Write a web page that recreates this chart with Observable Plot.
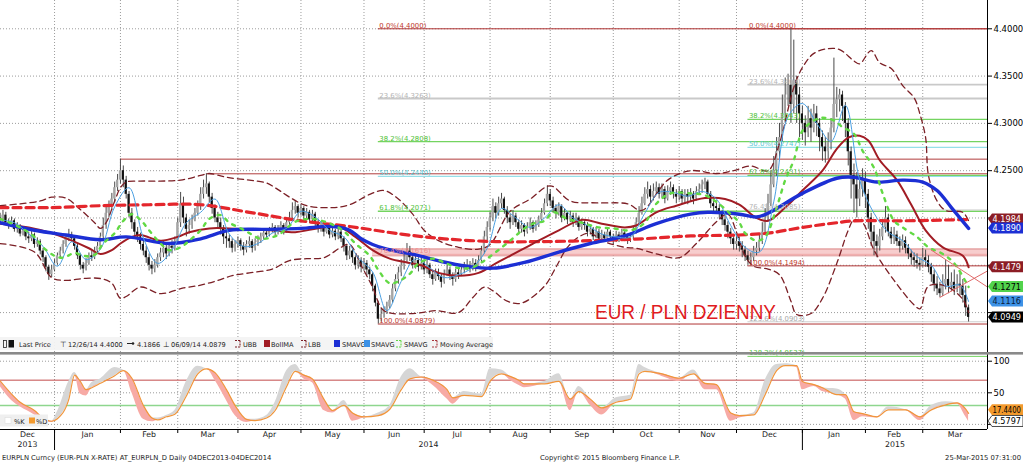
<!DOCTYPE html>
<html><head><meta charset="utf-8">
<script src="https://cdn.jsdelivr.net/npm/d3@7"></script>
<script src="https://cdn.jsdelivr.net/npm/@observablehq/plot@0.6"></script>
<style>
html,body{margin:0;padding:0;background:#fff;}
#wrap{position:relative;width:1023px;height:462px;overflow:hidden;background:#fff;}
#wrap svg{position:absolute;left:0;}
</style></head><body><div id="wrap"></div>
<script>
// ---------------- DATA ----------------
const firstDate = "2013-12-05", lastDate = "2015-03-24";   // daily sessions (weekdays)
const firstOpen = 4.200;
const close = [
4.198,4.203,4.195,4.192,4.197,4.188,4.190,4.183,4.186,4.180,
4.178,4.182,4.172,4.175,4.165,4.158,4.148,4.140,4.145,4.152,
4.160,4.165,4.172,4.178,4.182,4.178,4.170,4.160,4.150,4.146,
4.152,4.160,4.158,4.165,4.170,4.180,4.192,4.205,4.212,4.220,
4.232,4.240,4.250,4.240,4.225,4.205,4.195,4.185,4.180,4.172,
4.165,4.158,4.150,4.146,4.150,4.158,4.163,4.168,4.162,4.170,
4.168,4.175,4.195,4.215,4.200,4.188,4.192,4.198,4.205,4.212,
4.225,4.232,4.236,4.222,4.210,4.200,4.195,4.188,4.180,4.178,
4.175,4.168,4.172,4.176,4.170,4.166,4.172,4.175,4.168,4.174,
4.176,4.180,4.184,4.182,4.186,4.190,4.185,4.188,4.192,4.186,
4.195,4.200,4.208,4.212,4.205,4.210,4.202,4.206,4.198,4.204,
4.195,4.188,4.192,4.185,4.190,4.182,4.186,4.180,4.185,4.178,
4.170,4.160,4.165,4.158,4.150,4.155,4.148,4.152,4.145,4.140,
4.128,4.110,4.093,4.098,4.102,4.106,4.113,4.125,4.135,4.142,
4.150,4.155,4.165,4.158,4.150,4.155,4.148,4.152,4.145,4.150,
4.140,4.135,4.142,4.138,4.132,4.140,4.145,4.138,4.135,4.142,
4.140,4.145,4.148,4.150,4.146,4.152,4.148,4.155,4.165,4.180,
4.190,4.200,4.212,4.205,4.215,4.220,4.208,4.200,4.195,4.202,
4.195,4.188,4.192,4.185,4.190,4.195,4.188,4.192,4.198,4.205,
4.215,4.225,4.218,4.210,4.205,4.212,4.200,4.205,4.198,4.202,
4.195,4.200,4.190,4.195,4.192,4.185,4.188,4.180,4.185,4.178,
4.182,4.178,4.185,4.180,4.176,4.182,4.178,4.184,4.180,4.176,
4.180,4.185,4.195,4.205,4.215,4.225,4.230,4.222,4.228,4.232,
4.225,4.230,4.220,4.228,4.232,4.225,4.222,4.228,4.220,4.225,
4.222,4.225,4.220,4.228,4.230,4.235,4.238,4.225,4.215,4.212,
4.210,4.205,4.198,4.192,4.185,4.178,4.172,4.175,4.170,4.166,
4.160,4.155,4.158,4.165,4.168,4.175,4.185,4.200,4.215,4.235,
4.250,4.270,4.285,4.310,4.330,4.340,4.320,4.345,4.330,4.310,
4.300,4.290,4.305,4.295,4.310,4.300,4.285,4.275,4.270,4.280,
4.295,4.320,4.325,4.330,4.318,4.300,4.270,4.245,4.235,4.220,
4.230,4.240,4.225,4.200,4.185,4.175,4.170,4.180,4.190,4.200,
4.185,4.178,4.182,4.175,4.170,4.176,4.168,4.162,4.158,4.155,
4.152,4.150,4.158,4.155,4.148,4.140,4.130,4.125,4.120,4.130,
4.135,4.128,4.132,4.125,4.130,4.128,4.118,4.105,4.0949];
const hi = [
4.205,4.208,4.206,4.199,4.201,4.199,4.195,4.193,4.190,4.189,
4.185,4.186,4.184,4.179,4.177,4.168,4.160,4.150,4.150,4.156,
4.163,4.169,4.176,4.182,4.188,4.185,4.180,4.172,4.162,4.153,
4.157,4.163,4.165,4.169,4.174,4.184,4.200,4.212,4.218,4.226,
4.238,4.246,4.2622,4.255,4.244,4.228,4.210,4.198,4.190,4.184,
4.176,4.170,4.162,4.154,4.156,4.162,4.168,4.175,4.172,4.174,
4.176,4.180,4.200,4.227,4.222,4.204,4.198,4.203,4.210,4.218,
4.232,4.240,4.2467,4.238,4.226,4.214,4.206,4.200,4.192,4.186,
4.182,4.178,4.176,4.180,4.178,4.174,4.176,4.180,4.177,4.178,
4.181,4.184,4.188,4.188,4.190,4.194,4.192,4.192,4.196,4.194,
4.198,4.206,4.216,4.218,4.214,4.214,4.212,4.210,4.208,4.208,
4.206,4.198,4.196,4.194,4.194,4.192,4.190,4.188,4.188,4.187,
4.180,4.172,4.170,4.167,4.160,4.160,4.158,4.157,4.155,4.148,
4.142,4.130,4.112,4.104,4.106,4.111,4.118,4.130,4.140,4.148,
4.156,4.162,4.173,4.170,4.162,4.160,4.158,4.158,4.155,4.156,
4.152,4.144,4.146,4.146,4.141,4.145,4.150,4.148,4.142,4.146,
4.146,4.150,4.153,4.156,4.154,4.157,4.156,4.160,4.170,4.186,
4.196,4.206,4.220,4.216,4.222,4.226,4.222,4.212,4.204,4.208,
4.205,4.198,4.197,4.194,4.195,4.200,4.197,4.197,4.202,4.210,
4.220,4.234,4.230,4.222,4.214,4.216,4.214,4.210,4.206,4.207,
4.205,4.205,4.202,4.199,4.198,4.195,4.192,4.190,4.190,4.188,
4.187,4.185,4.189,4.187,4.183,4.186,4.185,4.188,4.187,4.183,
4.184,4.190,4.200,4.212,4.222,4.232,4.238,4.234,4.236,4.238,
4.236,4.236,4.233,4.234,4.238,4.235,4.230,4.233,4.230,4.230,
4.230,4.231,4.228,4.233,4.236,4.240,4.242,4.240,4.228,4.220,
4.218,4.214,4.208,4.202,4.196,4.189,4.181,4.182,4.180,4.175,
4.170,4.165,4.163,4.170,4.174,4.182,4.195,4.210,4.225,4.250,
4.265,4.285,4.300,4.330,4.348,4.352,4.4000,4.388,4.350,4.338,
4.318,4.308,4.318,4.315,4.320,4.318,4.305,4.292,4.285,4.290,
4.305,4.369,4.338,4.336,4.334,4.322,4.305,4.275,4.257,4.248,
4.245,4.252,4.248,4.230,4.205,4.192,4.182,4.188,4.198,4.212,
4.204,4.190,4.190,4.186,4.180,4.182,4.180,4.172,4.166,4.163,
4.162,4.158,4.168,4.166,4.160,4.152,4.145,4.138,4.132,4.140,
4.155,4.150,4.142,4.145,4.140,4.142,4.135,4.128,4.108];
const lo = [
4.194,4.195,4.192,4.188,4.190,4.185,4.184,4.180,4.181,4.176,
4.173,4.175,4.168,4.169,4.161,4.153,4.143,4.134,4.137,4.143,
4.150,4.157,4.162,4.169,4.175,4.174,4.166,4.156,4.145,4.141,
4.144,4.150,4.154,4.156,4.162,4.167,4.177,4.188,4.200,4.208,
4.216,4.228,4.236,4.232,4.220,4.200,4.188,4.180,4.174,4.166,
4.160,4.152,4.144,4.140,4.142,4.147,4.154,4.158,4.156,4.159,
4.162,4.165,4.172,4.190,4.194,4.180,4.183,4.188,4.196,4.202,
4.208,4.220,4.225,4.216,4.204,4.195,4.188,4.182,4.172,4.168,
4.168,4.163,4.164,4.168,4.165,4.160,4.163,4.168,4.163,4.165,
4.170,4.173,4.177,4.178,4.180,4.184,4.181,4.182,4.186,4.182,
4.184,4.192,4.198,4.204,4.200,4.202,4.198,4.199,4.194,4.195,
4.191,4.184,4.185,4.180,4.183,4.178,4.179,4.176,4.177,4.174,
4.164,4.155,4.156,4.152,4.145,4.146,4.142,4.144,4.139,4.135,
4.122,4.106,4.0879,4.090,4.094,4.098,4.104,4.110,4.122,4.130,
4.138,4.145,4.152,4.154,4.146,4.146,4.143,4.145,4.140,4.141,
4.136,4.129,4.133,4.134,4.126,4.130,4.138,4.134,4.128,4.132,
4.135,4.138,4.141,4.144,4.142,4.144,4.143,4.146,4.152,4.162,
4.176,4.186,4.196,4.199,4.202,4.210,4.204,4.194,4.188,4.192,
4.190,4.182,4.184,4.180,4.183,4.187,4.184,4.186,4.190,4.196,
4.203,4.212,4.212,4.205,4.199,4.202,4.195,4.197,4.193,4.195,
4.190,4.192,4.186,4.187,4.187,4.180,4.182,4.176,4.178,4.173,
4.174,4.174,4.176,4.176,4.172,4.174,4.174,4.176,4.175,4.172,
4.174,4.177,4.183,4.193,4.203,4.213,4.220,4.216,4.218,4.224,
4.220,4.221,4.215,4.218,4.224,4.220,4.215,4.218,4.214,4.216,
4.214,4.217,4.214,4.218,4.224,4.226,4.230,4.220,4.210,4.206,
4.204,4.199,4.192,4.186,4.178,4.172,4.166,4.166,4.164,4.158,
4.154,4.150,4.151,4.154,4.160,4.164,4.172,4.183,4.196,4.212,
4.232,4.244,4.262,4.280,4.300,4.318,4.300,4.310,4.300,4.285,
4.282,4.276,4.285,4.280,4.290,4.286,4.270,4.260,4.258,4.262,
4.272,4.290,4.306,4.312,4.302,4.285,4.255,4.220,4.205,4.200,
4.212,4.222,4.210,4.188,4.170,4.160,4.158,4.165,4.176,4.184,
4.180,4.172,4.172,4.170,4.163,4.166,4.162,4.156,4.150,4.148,
4.146,4.144,4.148,4.148,4.142,4.132,4.122,4.118,4.116,4.117,
4.124,4.120,4.122,4.118,4.121,4.118,4.110,4.096,4.090];

// indicator lines: [session number, value]
const ubb = [[0,4.213],[7,4.215],[14,4.218],[18,4.222],[23,4.221],[28,4.209],[33,4.195],[35,4.189],[37,4.195],[40,4.218],[42,4.232],[44,4.238],[49,4.239],[56,4.239],[63,4.240],[70,4.245],[73,4.247],[79,4.243],[87,4.240],[93,4.237],[97,4.230],[101,4.222],[107,4.213],[116,4.211],[122,4.214],[129,4.225],[134,4.229],[139,4.220],[144,4.204],[148,4.187],[153,4.176],[160,4.169],[167,4.167],[171,4.172],[178,4.207],[185,4.220],[192,4.234],[199,4.218],[208,4.216],[219,4.215],[224,4.208],[233,4.240],[241,4.250],[250,4.247],[256,4.250],[262,4.255],[268,4.250],[272,4.279],[277,4.338],[280,4.359],[284,4.374],[289,4.379],[293,4.378],[298,4.366],[300,4.363],[304,4.377],[307,4.364],[311,4.358],[315,4.340],[319,4.327],[321,4.310],[323,4.285],[324,4.245],[327,4.218],[330,4.208],[336,4.206],[338,4.197]];
const lbb = [[0,4.173],[12,4.164],[18,4.137],[23,4.134],[29,4.136],[35,4.136],[39,4.131],[42,4.115],[44,4.117],[49,4.127],[56,4.120],[64,4.126],[70,4.129],[76,4.134],[81,4.139],[87,4.142],[95,4.146],[101,4.155],[107,4.157],[113,4.158],[119,4.169],[122,4.172],[126,4.150],[130,4.127],[134,4.102],[144,4.099],[152,4.102],[160,4.100],[165,4.116],[169,4.127],[172,4.123],[177,4.112],[182,4.110],[190,4.128],[194,4.148],[198,4.169],[202,4.180],[206,4.184],[210,4.176],[218,4.169],[222,4.168],[229,4.162],[237,4.158],[243,4.173],[250,4.196],[254,4.204],[257,4.185],[260,4.160],[263,4.149],[268,4.146],[272,4.140],[276,4.112],[278,4.098],[283,4.099],[287,4.115],[292,4.152],[296,4.187],[298,4.198],[301,4.195],[305,4.166],[312,4.134],[319,4.108],[321,4.104],[324,4.128],[330,4.128],[336,4.114],[338,4.100]];
const bollMA = [[0,4.194],[10,4.190],[18,4.184],[25,4.176],[31,4.168],[35,4.162],[39,4.166],[42,4.173],[46,4.180],[49,4.182],[56,4.176],[62,4.180],[66,4.185],[73,4.189],[80,4.189],[87,4.188],[95,4.187],[103,4.185],[109,4.188],[118,4.191],[124,4.180],[130,4.166],[136,4.157],[142,4.153],[147,4.150],[153,4.142],[160,4.139],[167,4.142],[173,4.152],[178,4.160],[186,4.173],[195,4.187],[203,4.198],[210,4.194],[218,4.190],[222,4.192],[229,4.206],[236,4.213],[246,4.221],[253,4.220],[258,4.214],[264,4.200],[268,4.197],[274,4.211],[280,4.229],[287,4.250],[292,4.273],[296,4.285],[300,4.287],[303,4.282],[307,4.261],[313,4.240],[318,4.214],[323,4.187],[329,4.169],[336,4.160],[338,4.1479]];
const smaBlue = [[0,4.195],[12,4.187],[23,4.182],[35,4.177],[44,4.180],[59,4.173],[70,4.178],[80,4.187],[93,4.188],[105,4.189],[116,4.191],[122,4.187],[126,4.178],[130,4.172],[135,4.167],[145,4.161],[154,4.154],[163,4.149],[172,4.147],[183,4.153],[195,4.164],[206,4.173],[218,4.181],[229,4.194],[241,4.204],[247,4.206],[258,4.204],[264,4.201],[268,4.205],[280,4.226],[292,4.242],[298,4.243],[306,4.238],[315,4.240],[322,4.238],[327,4.229],[332,4.211],[338,4.1890]];
const smaGreen = [[0,4.199],[7,4.190],[12,4.180],[15,4.169],[19,4.160],[22,4.158],[26,4.163],[29,4.160],[33,4.161],[36,4.173],[40,4.184],[43,4.197],[46,4.204],[49,4.198],[52,4.187],[56,4.173],[59,4.166],[63,4.169],[66,4.176],[70,4.187],[73,4.199],[77,4.203],[80,4.195],[84,4.189],[87,4.184],[91,4.178],[97,4.182],[103,4.196],[109,4.199],[116,4.193],[120,4.186],[124,4.173],[129,4.160],[132,4.145],[136,4.131],[139,4.133],[143,4.141],[146,4.152],[151,4.157],[155,4.153],[160,4.147],[165,4.148],[169,4.155],[173,4.164],[178,4.176],[183,4.189],[186,4.194],[190,4.197],[193,4.206],[198,4.199],[203,4.195],[209,4.190],[214,4.189],[220,4.187],[225,4.195],[229,4.215],[234,4.226],[241,4.226],[246,4.224],[250,4.217],[255,4.204],[258,4.195],[260,4.184],[264,4.176],[267,4.180],[271,4.211],[274,4.240],[277,4.261],[280,4.292],[284,4.303],[287,4.306],[291,4.303],[294,4.296],[298,4.289],[301,4.271],[305,4.253],[308,4.226],[312,4.197],[315,4.190],[320,4.180],[324,4.169],[329,4.162],[333,4.152],[338,4.1271]];
const smaLight = [[0,4.198],[5,4.195],[10,4.183],[15,4.170],[20,4.149],[25,4.175],[30,4.156],[35,4.167],[40,4.212],[45,4.232],[50,4.179],[55,4.152],[60,4.166],[65,4.195],[70,4.206],[75,4.220],[80,4.183],[85,4.170],[90,4.173],[95,4.184],[100,4.189],[105,4.207],[110,4.201],[115,4.187],[120,4.180],[125,4.158],[130,4.143],[135,4.102],[140,4.133],[145,4.157],[150,4.147],[155,4.137],[160,4.140],[165,4.148],[170,4.168],[175,4.210],[180,4.200],[185,4.190],[190,4.200],[195,4.214],[200,4.200],[205,4.192],[210,4.183],[215,4.180],[220,4.180],[225,4.205],[230,4.227],[235,4.227],[240,4.223],[245,4.228],[250,4.220],[255,4.192],[260,4.169],[265,4.164],[270,4.217],[275,4.307],[280,4.321],[285,4.300],[290,4.281],[295,4.319],[300,4.240],[305,4.205],[310,4.185],[315,4.176],[320,4.159],[325,4.150],[330,4.128],[335,4.129],[338,4.1116]];
const movingAvg = [[0,4.211],[18,4.211],[35,4.213],[52,4.214],[70,4.214],[87,4.206],[105,4.197],[122,4.191],[140,4.183],[155,4.178],[173,4.175],[188,4.175],[206,4.176],[224,4.178],[241,4.181],[258,4.182],[268,4.184],[280,4.190],[292,4.195],[298,4.197],[314,4.197],[338,4.1984]];

// Fibonacci retracements and support / resistance
const fib1Levels = [0, 23.6, 38.2, 50, 61.8, 76.4, 100];
const fib1Values = [4.4000, 4.3263, 4.2808, 4.2440, 4.2071, 4.1616, 4.0879];
const fib1From = "2014-06-09";
const fib2Levels = [0, 23.6, 38.2, 50, 61.8, 76.4, 100, 123.6, 138.2];
const fib2Values = [4.4000, 4.3409, 4.3043, 4.2747, 4.2451, 4.2085, 4.1494, 4.0903, 4.0537];
const fib2From = "2014-12-05";
const resLevels = [4.2622, 4.2467];
const resFrom = ["2014-02-03", "2014-03-17"];
const bandLevels = [4.1600, 4.1672];
const bandFrom = "2014-06-05";
const trendDown = [[325, 4.166], [344.6, 4.127]];
const trendUp = [[328, 4.116], [344.6, 4.144]];

// stochastic %K / %D
const stochDay = [0,4,7,12,15,18,20,24,26,28,30,32,35,40,43,46,50,53,55,58,61,65,69,72,75,79,82,86,89,93,96,100,103,106,109,113,116,120,123,127,132,136,140,143,147,151,156,158,162,168,171,175,178,181,183,190,195,199,202,206,210,215,220,223,225,231,237,242,246,250,255,258,263,267,271,274,278,280,284,287,292,295,298,301,306,310,316,321,325,330,334,337,338];
const stochD = [69,48,35,22,10,5,9,40,78,68,55,58,65,77,85,73,30,10,7,12,16,45,80,88,82,55,30,8,6,10,22,60,84,78,72,40,22,30,18,12,14,24,55,72,75,70,55,42,46,44,68,80,76,70,64,64,68,40,52,40,26,35,40,80,84,80,73,80,65,63,18,14,15,47,85,93,93,68,63,58,47,47,20,17,12,23,23,12,23,31,34,24,17.44];
const stochK = [60,38,28,15,4,3,20,68,82,48,45,66,72,90,86,50,8,4,10,14,22,68,92,88,70,38,14,3,8,14,35,85,95,72,66,22,18,38,5,10,18,30,75,88,73,62,40,32,52,48,88,86,70,62,58,68,80,22,60,30,15,42,46,95,90,76,68,86,55,55,5,10,18,70,95,96,90,55,60,52,56,40,6,12,10,28,22,6,30,36,32,12,4.5797];

// text
const legendStats = ["12/26/14 4.4000", "4.1866", "06/09/14 4.0879"];
const legendNames = ["Last Price", "UBB", "BollMA", "LBB", "SMAVG", "SMAVG", "SMAVG", "Moving Average"];
const monthNames = ["Jan","Feb","Mar","Apr","May","Jun","Jul","Aug","Sep","Oct","Nov","Dec"];
const titleText = "EUR / PLN DZIENNY";
const footerLeft = "EURPLN Curncy (EUR-PLN X-RATE) AT_EURPLN_D  Daily 04DEC2013-04DEC2014";
const footerMid = "Copyright\u00A9 2015 Bloomberg Finance L.P.";
const footerRight = "25-Mar-2015 07:31:00";
const yTicks = [4.10, 4.15, 4.20, 4.25, 4.30, 4.35, 4.40];
const yTicksHidden = [4.10, 4.15, 4.20];      // covered by the value flags in the picture
const stochTicks = [0, 50, 100];

// ---------------- BUILD ----------------
const FONT = "DejaVu Sans, Verdana, sans-serif";
const W = 1023, AXIS_X = 987, MAIN_H = 352, LOW_H = 110;
const wrap = document.getElementById("wrap");

const sessions = [];
for (let t = Date.parse(firstDate + "T00:00Z"); t <= Date.parse(lastDate + "T00:00Z"); t += 864e5) {
  const d = new Date(t), w = d.getUTCDay();
  if (w > 0 && w < 6) sessions.push(d);
}
const sessionOf = s => sessions.findIndex(d => +d === Date.parse(s + "T00:00Z"));
const monthStarts = [];
sessions.forEach((d, i) => { if (i > 0 && d.getUTCMonth() !== sessions[i - 1].getUTCMonth()) monthStarts.push(i); });
const yearStarts = monthStarts.filter(i => sessions[i].getUTCMonth() === 0);
const xDom = [0.14, 344.6];
const bounds = [xDom[0], ...monthStarts, xDom[1]];
const monthLbls = bounds.slice(0, -1).map((a, k) => ({mid: (a + bounds[k + 1]) / 2, name: monthNames[sessions[Math.ceil(a)].getUTCMonth()]}));
const yb = [xDom[0], ...yearStarts, xDom[1]];
const yearLbls = yb.slice(0, -1).map((a, k) => ({mid: (a + yb[k + 1]) / 2, name: String(sessions[Math.ceil(a)].getUTCFullYear())}));

const bars = close.map((c, i) => {
  const o = i ? close[i - 1] : firstOpen;
  return {i, o, c, h: Math.max(hi[i], o, c), l: Math.min(lo[i], o, c)};
});
const P = a => a.map(([s, v]) => ({s, v}));

const dotted = {stroke: "#9c9c9c", strokeDasharray: "1,2", strokeWidth: 1};
const lineCol = {0: "#b03434", 23.6: "#c9c9c9", 38.2: "#74d460", 50: "#96dfe8", 61.8: "#74d460", 76.4: "#f0a8a8", 100: "#b03434", 123.6: "#cfcfcf", 138.2: "#74d460"};
const textCol = {0: "#c0392b", 23.6: "#b4b4b4", 38.2: "#52c23a", 50: "#55c6d4", 61.8: "#52c23a", 76.4: "#ef8d8d", 100: "#c0392b", 123.6: "#a9a9a9", 138.2: "#52c23a"};
const lineW = {23.6: 1.8, 38.2: 1.3, 61.8: 1.3, 50: 1.3};

const fibRows = [];
fib1Levels.forEach((l, k) => fibRows.push({l, v: fib1Values[k], from: sessionOf(fib1From), set: 1}));
fib2Levels.forEach((l, k) => fibRows.push({l, v: fib2Values[k], from: sessionOf(fib2From), set: 2}));

const mainMarks = [
  Plot.ruleY(yTicks, dotted),
  Plot.ruleX(monthStarts, dotted),
  Plot.rect([bandLevels], {x1: () => sessionOf(bandFrom), x2: () => xDom[1], y1: d => d[0], y2: d => d[1], fill: "#f7cdcd"}),
  Plot.ruleY(bandLevels, {x1: () => sessionOf(bandFrom), x2: () => xDom[1], stroke: "#dc8d8d", strokeWidth: 1}),
  ...resLevels.map((v, k) => Plot.ruleY([v], {x1: () => sessionOf(resFrom[k]), x2: () => xDom[1], stroke: "#b13c3c", strokeWidth: 1})),
  ...fibRows.map(r => Plot.ruleY([r.v], {x1: () => r.from, x2: () => xDom[1],
      stroke: (r.set === 2 && r.l === 76.4) ? "#cfcfcf" : lineCol[r.l], strokeWidth: lineW[r.l] || 1})),
  Plot.ruleX(bars, {x: "i", y1: "l", y2: "h", stroke: "#4a4a4a", strokeWidth: 1}),
  Plot.rect(bars.filter(d => d.c >= d.o), {x1: d => d.i - 0.38, x2: d => d.i + 0.38, y1: "o", y2: "c", fill: "#a6a6a6"}),
  Plot.rect(bars.filter(d => d.c < d.o), {x1: d => d.i - 0.38, x2: d => d.i + 0.38, y1: "o", y2: "c", fill: "#111"}),
  Plot.line(P(ubb), {x: "s", y: "v", stroke: "#7b1f25", strokeWidth: 1.3, strokeDasharray: "6,4", curve: "catmull-rom"}),
  Plot.line(P(lbb), {x: "s", y: "v", stroke: "#7b1f25", strokeWidth: 1.3, strokeDasharray: "6,4", curve: "catmull-rom"}),
  Plot.line(P(movingAvg), {x: "s", y: "v", stroke: "#e4262c", strokeWidth: 3.2, strokeDasharray: "8,5", curve: "catmull-rom"}),
  Plot.line(P(bollMA), {x: "s", y: "v", stroke: "#a11c24", strokeWidth: 2, curve: "catmull-rom"}),
  Plot.line(P(smaBlue), {x: "s", y: "v", stroke: "#1c2fd4", strokeWidth: 3.4, curve: "catmull-rom"}),
  Plot.line(P(smaLight), {x: "s", y: "v", stroke: "#4a9fe2", strokeWidth: 1, curve: "catmull-rom"}),
  Plot.line(P(smaGreen), {x: "s", y: "v", stroke: "#62d944", strokeWidth: 2.4, strokeDasharray: "3,6", curve: "catmull-rom"}),
  Plot.line(P(trendDown), {x: "s", y: "v", stroke: "#e06a6a", strokeWidth: 1}),
  Plot.line(P(trendUp), {x: "s", y: "v", stroke: "#e06a6a", strokeWidth: 1}),
  ...fibRows.map(r => Plot.text([r], {x: "from", y: "v", text: d => `${d.l.toFixed(1)}%(${d.v.toFixed(4)})`,
      textAnchor: "start", lineAnchor: "bottom", dx: 1, dy: -1, fontSize: 6.9,
      fill: (r.set === 2 && r.l === 76.4) ? "#b4b4b4" : textCol[r.l]})),
  Plot.ruleX([xDom[1]], {stroke: "#000", strokeWidth: 1})
];

const main = Plot.plot({
  width: W, height: MAIN_H, marginLeft: 0, marginRight: W - AXIS_X, marginTop: 0, marginBottom: 0,
  x: {domain: xDom, axis: null},
  y: {domain: [4.0578, 4.4299], axis: "right", ticks: yTicks,
      tickFormat: d => yTicksHidden.some(h => Math.abs(h - d) < 1e-9) ? "" : d.toFixed(4),
      tickSize: 4, tickPadding: 2, label: null},
  style: {fontFamily: FONT, fontSize: "8.5px", background: "transparent", overflow: "visible", color: "#000"},
  marks: mainMarks
});
main.style.top = "0px";
wrap.appendChild(main);

const stoch = stochDay.map((s, k) => ({s, k: stochK[k], d: stochD[k]}));
const lowDom = [-8.1, 113.8];
const lower = Plot.plot({
  width: W, height: LOW_H, marginLeft: 0, marginRight: W - AXIS_X, marginTop: 0, marginBottom: 33,
  x: {domain: xDom, axis: null},
  y: {domain: lowDom, axis: "right", ticks: stochTicks, tickFormat: d => d === 0 ? "" : String(d), tickSize: 4, tickPadding: 2, label: null},
  style: {fontFamily: FONT, fontSize: "8.5px", background: "transparent", overflow: "visible", color: "#000"},
  marks: [
    Plot.ruleY(stochTicks, dotted),
    Plot.ruleX(monthStarts, dotted),
    Plot.ruleY([70], {stroke: "#c24b4b", strokeWidth: 1}),
    Plot.ruleY([30], {stroke: "#8ed68e", strokeWidth: 1.6}),
    Plot.areaY(stoch, {x: "s", y1: "d", y2: d => Math.max(d.k, d.d), fill: "#d6d6d6", curve: "monotone-x"}),
    Plot.areaY(stoch, {x: "s", y1: "d", y2: d => Math.min(d.k, d.d), fill: "#f7aaa5", curve: "monotone-x"}),
    Plot.line(stoch, {x: "s", y: "d", stroke: "#f0953a", strokeWidth: 1.2, curve: "monotone-x"}),
    Plot.ruleY([lowDom[0]], {stroke: "#000", strokeWidth: 1}),
    Plot.ruleX([xDom[1]], {stroke: "#000", strokeWidth: 1}),
    Plot.axisX(monthStarts, {anchor: "bottom", tickSize: 4, tickFormat: () => "", stroke: "#000"}),
    Plot.axisX(yearStarts, {anchor: "bottom", tickSize: 21, tickFormat: () => "", stroke: "#000"}),
    Plot.text(monthLbls, {x: "mid", text: "name", frameAnchor: "bottom", dy: 7.5, fontSize: 7.8, fill: "#222"}),
    Plot.text(yearLbls, {x: "mid", text: "name", frameAnchor: "bottom", dy: 17.5, fontSize: 7.8, fill: "#222"})
  ]
});
lower.style.top = MAIN_H + "px";
wrap.appendChild(lower);

// ---------------- overlay: flags, legend, title, footer ----------------
const ov = d3.select(wrap).append("svg").attr("width", W).attr("height", 462).style("top", "0px").style("pointer-events", "none");
const yMain = v => main.scale("y").apply(v);
const yLow = v => lower.scale("y").apply(v) + MAIN_H;

ov.append("rect").attr("x", 0).attr("y", MAIN_H).attr("width", W).attr("height", 2.6).attr("fill", "#8a8a8a");

function flag(y, txt, bg, fg, border) {
  const x0 = AXIS_X + 1, h = 11;
  ov.append("path").attr("d", `M${x0},${y} L${x0 + 4},${y - h / 2} H${W} V${y + h / 2} H${x0 + 4} Z`)
    .attr("fill", bg).attr("stroke", border || "none").attr("stroke-width", border ? 0.8 : 0);
  ov.append("text").attr("x", x0 + 4.5).attr("y", y + 3.1).attr("font-family", FONT).attr("font-size", 8.1)
    .attr("textLength", 28.5).attr("lengthAdjust", "spacingAndGlyphs").attr("fill", fg).text(txt);
}
const last = a => a[a.length - 1][1];
flag(yMain(last(movingAvg)), last(movingAvg).toFixed(4), "#8c1d25", "#fff");
flag(yMain(last(smaBlue)), last(smaBlue).toFixed(4), "#1c2fd4", "#fff");
flag(yMain(last(bollMA)), last(bollMA).toFixed(4), "#8c1d25", "#fff");
flag(yMain(last(smaGreen)), last(smaGreen).toFixed(4), "#52d34c", "#000");
flag(yMain(last(smaLight)), last(smaLight).toFixed(4), "#3d92e6", "#0b1b3a");
flag(yMain(close[close.length - 1]), close[close.length - 1].toFixed(4), "#000", "#fff");
flag(yLow(stochD[stochD.length - 1]) - 3, stochD[stochD.length - 1].toFixed(4), "#f39a2e", "#000");
flag(yLow(stochK[stochK.length - 1]), stochK[stochK.length - 1].toFixed(4), "#fff", "#000", "#222");

const txt = (x, y, s, size, fill, anchor, font) => ov.append("text").attr("x", x).attr("y", y)
  .attr("font-family", font || FONT).attr("font-size", size).attr("fill", fill || "#222")
  .attr("text-anchor", anchor || "start").text(s);

// main legend
const LY = 346.5, LF = 6.6;
ov.append("rect").attr("x", 0).attr("y", 337).attr("width", 493).attr("height", 13).attr("fill", "#f3f3f3").attr("opacity", 0.95);
ov.append("rect").attr("x", 3.5).attr("y", 340.5).attr("width", 3).attr("height", 7).attr("fill", "none").attr("stroke", "#222").attr("stroke-width", 0.8);
ov.append("rect").attr("x", 8.5).attr("y", 340).attr("width", 5.5).attr("height", 7.5).attr("fill", "#111");
txt(19, LY, legendNames[0], LF);
txt(60, LY, "\u22A4", 7.5);
txt(68, LY, legendStats[0], LF);
ov.append("line").attr("x1", 127).attr("x2", 133).attr("y1", 343.5).attr("y2", 343.5).attr("stroke", "#222");
ov.append("circle").attr("cx", 133).attr("cy", 343.5).attr("r", 1.3).attr("fill", "#222");
txt(137, LY, legendStats[1], LF);
txt(163, LY, "\u22A5", 7.5);
txt(171, LY, legendStats[2], LF);
const dashIcon = (x, col) => ov.append("path").attr("d", `M${x},340.5 h5 M${x + 5},340.5 v6.5 M${x},347 h5`).attr("stroke", col).attr("stroke-width", 1.1).attr("stroke-dasharray", "2,1").attr("fill", "none");
const boxIcon = (x, col) => ov.append("rect").attr("x", x).attr("y", 340).attr("width", 6).attr("height", 7).attr("fill", col);
dashIcon(235, "#7b1f25"); txt(243, LY, legendNames[1], LF);
boxIcon(264, "#a11c24"); txt(271, LY, legendNames[2], LF);
dashIcon(301, "#7b1f25"); txt(308, LY, legendNames[3], LF);
boxIcon(334, "#1c2fd4"); txt(342, LY, legendNames[4], LF);
boxIcon(364, "#3d92e6"); txt(371, LY, legendNames[5], LF);
dashIcon(396, "#62d944"); txt(404, LY, legendNames[6], LF);
dashIcon(432, "#a8343a"); txt(440, LY, legendNames[7], LF);

// stochastic legend
ov.append("rect").attr("x", 0).attr("y", 414.5).attr("width", 48).attr("height", 12).attr("fill", "#efefef");
ov.append("rect").attr("x", 5).attr("y", 417.5).attr("width", 6).attr("height", 6).attr("fill", "#fff").attr("stroke", "#ddd").attr("stroke-width", 0.6);
txt(14, 423.8, "%K", 6.6);
ov.append("rect").attr("x", 29).attr("y", 417.5).attr("width", 6).attr("height", 6).attr("fill", "#f39a2e");
txt(36, 423.8, "%D", 6.6);

// title (narrowed to the width it has in the picture)
txt(595, 318.5, titleText, 21, "#e01b22", "start", "Liberation Sans, Arial, sans-serif")
  .attr("textLength", 181).attr("lengthAdjust", "spacingAndGlyphs");

// footer
txt(2, 460, footerLeft, 6.8, "#222");
txt(540, 460, footerMid, 6.8, "#222");
txt(1021, 460, footerRight, 6.8, "#222", "end");
</script></body></html>
